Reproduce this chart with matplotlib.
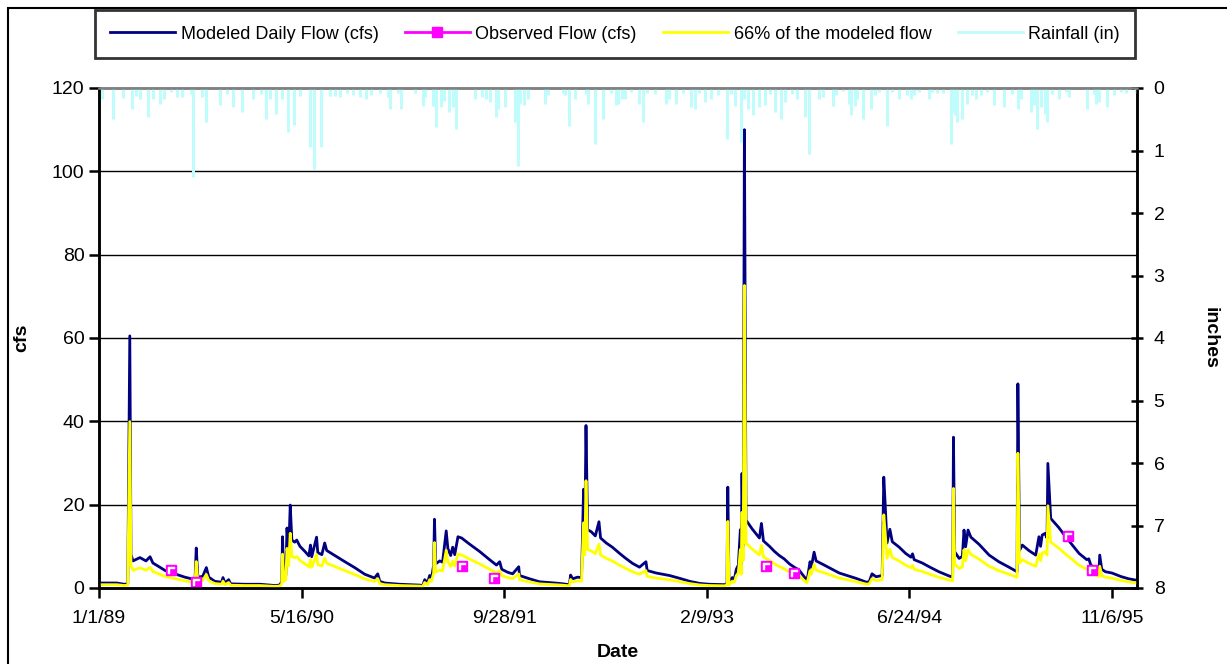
"""
modeled vs observed daily flow with rainfall hanging from the top
"""
import matplotlib
matplotlib.use("Agg")
import matplotlib.pyplot as plt
from matplotlib.lines import Line2D
from matplotlib.patches import Rectangle
import pandas as pd

plt.rcParams['font.family'] = ['Liberation Sans', 'DejaVu Sans']

# ------------------------------------------------------
# data, days counted from 1/1/89
start = pd.Timestamp("1989-01-01")

flow_days = [0, 44, 62, 71, 76, 79, 84, 101, 116, 126, 133, 150, 163, 187, 212, 237, 240, 244,
             256, 265, 271, 286, 303, 306, 311, 320, 325, 360, 397, 434, 446, 451, 453, 456,
             461, 464, 468, 472, 476, 483, 488, 496, 508, 518, 522, 525, 537, 540, 550, 557,
             562, 582, 607, 631, 656, 680, 688, 693, 705, 742, 791, 799, 804, 811, 816, 821,
             826, 828, 831, 841, 848, 857, 861, 868, 873, 878, 886, 895, 915, 939, 964, 981,
             989, 994, 1008, 1021, 1036, 1038, 1063, 1087, 1137, 1161, 1164, 1169, 1181, 1191,
             1196, 1199, 1202, 1206, 1215, 1225, 1234, 1238, 1252, 1267, 1285, 1299, 1317, 1334,
             1350, 1353, 1375, 1408, 1434, 1458, 1483, 1506, 1545, 1550, 1552, 1555, 1563, 1568,
             1573, 1578, 1583, 1585, 1587, 1590, 1593, 1597, 1605, 1612, 1622, 1630, 1635, 1640,
             1655, 1667, 1679, 1691, 1704, 1716, 1728, 1743, 1748, 1755, 1758, 1765, 1770, 1790,
             1827, 1869, 1894, 1901, 1908, 1918, 1933, 1937, 1940, 1945, 1952, 1958, 1975, 1991,
             2004, 2008, 2012, 2032, 2049, 2073, 2098, 2107, 2109, 2112, 2123, 2131, 2135, 2139,
             2145, 2152, 2172, 2197, 2221, 2246, 2266, 2268, 2272, 2279, 2295, 2312, 2320, 2324,
             2328, 2335, 2340, 2342, 2349, 2369, 2386, 2401, 2419, 2438, 2443, 2448, 2460, 2468,
             2470, 2475, 2484, 2500, 2524, 2542, 2559]
flow_cfs = [1.2, 1.2, 0.9, 1.0, 60.5, 8.0, 6.5, 7.3, 6.5, 7.5, 6.0, 5.0, 4.2, 3.4, 2.6, 2.0, 9.6, 2.6,
            2.8, 4.9, 2.6, 1.6, 1.4, 2.5, 1.2, 2.0, 1.0, 0.9, 0.9, 0.6, 0.7, 1.5, 12.3, 2.5,
            3.0, 14.4, 8.0, 19.9, 11.5, 11.0, 11.5, 10.0, 8.8, 7.7, 10.3, 7.5, 12.2, 8.5, 8.0, 10.8,
            9.0, 7.8, 6.3, 4.9, 3.3, 2.4, 3.4, 1.6, 1.2, 0.9, 0.7, 0.6, 2.0, 1.2, 3.0, 2.5,
            5.5, 16.5, 5.8, 6.5, 6.2, 13.7, 9.5, 7.8, 9.8, 8.0, 12.3, 12.0, 10.5, 8.8, 6.8, 5.5,
            6.3, 4.5, 3.8, 3.4, 5.1, 3.0, 2.2, 1.5, 1.1, 0.8, 3.1, 2.2, 2.6, 2.5,
            23.7, 12.0, 39.0, 14.0, 13.5, 12.5, 15.9, 12.0, 10.8, 9.8, 8.3, 7.2, 5.9, 5.0,
            6.3, 4.2, 3.6, 3.0, 2.3, 1.6, 1.1, 0.9, 0.8, 1.2, 24.2, 1.0, 2.5, 2.0,
            4.5, 5.5, 14.0, 5.0, 27.5, 10.0, 110.0, 16.3, 15.2, 14.2, 13.0, 12.0, 15.5, 11.3,
            10.0, 8.8, 7.8, 7.0, 5.8, 5.0, 4.3, 2.4, 2.0, 6.3, 5.0, 8.6, 6.5, 5.5,
            3.6, 2.3, 1.4, 1.5, 3.4, 2.7, 3.0, 26.6, 21.0, 10.8, 14.1, 11.1, 9.8, 8.3,
            7.4, 8.2, 6.8, 6.0, 5.1, 3.9, 2.9, 2.6, 36.2, 8.7, 7.1, 7.6, 13.9, 9.9,
            13.9, 12.2, 10.5, 7.9, 6.3, 5.0, 3.9, 49.0, 9.0, 10.3, 9.0, 7.9, 12.3, 10.0,
            12.7, 13.1, 12.0, 29.9, 16.7, 14.5, 12.3, 10.5, 8.3, 6.8, 7.0, 5.5, 4.7, 4.2,
            7.9, 4.5, 3.9, 3.6, 2.7, 2.2, 1.9]

obs_days = [178, 239, 895, 975, 1646, 1716, 2391, 2450]
obs_cfs = [4.3, 1.4, 5.4, 2.5, 5.4, 3.5, 12.5, 4.3]

rain_days = [7, 34, 60, 81, 91, 101, 120, 134, 150, 160, 178, 193, 204, 228, 233, 253, 263, 298,
             315, 330, 352, 381, 399, 411, 422, 436, 452, 466, 481, 496, 520, 530, 549, 570,
             582, 594, 612, 627, 644, 658, 672, 693, 713, 719, 738, 746, 779, 800, 804, 824,
             831, 845, 851, 864, 874, 882, 929, 945, 956, 964, 979, 984, 1003, 1028, 1033, 1038,
             1048, 1058, 1102, 1108, 1145, 1151, 1161, 1176, 1202, 1206, 1225, 1243, 1264, 1275,
             1280, 1291, 1299, 1313, 1332, 1342, 1352, 1373, 1400, 1408, 1423, 1441, 1461, 1472,
             1482, 1496, 1511, 1529, 1549, 1560, 1570, 1585, 1593, 1603, 1613, 1630, 1645, 1657,
             1669, 1683, 1694, 1710, 1724, 1743, 1753, 1778, 1786, 1812, 1819, 1837, 1852, 1856,
             1866, 1872, 1886, 1905, 1916, 1925, 1944, 1958, 1975, 1995, 2004, 2012, 2024, 2049,
             2057, 2069, 2082, 2102, 2106, 2113, 2117, 2131, 2143, 2154, 2165, 2176, 2191, 2209,
             2234, 2254, 2269, 2275, 2300, 2308, 2316, 2324, 2335, 2340, 2353, 2369, 2386, 2394,
             2438, 2456, 2461, 2468, 2488, 2505, 2522, 2536, 2559]
rain_in = [0.18, 0.5, 0.16, 0.34, 0.12, 0.18, 0.47, 0.18, 0.25, 0.18, 0.06, 0.15, 0.15, 0.1, 1.42, 0.15, 0.54, 0.27,
           0.1, 0.31, 0.38, 0.18, 0.1, 0.5, 0.18, 0.41, 0.18, 0.7, 0.59, 0.12, 0.95, 1.3, 0.95, 0.12,
           0.12, 0.15, 0.08, 0.11, 0.15, 0.18, 0.11, 0.08, 0.15, 0.33, 0.08, 0.34, 0.08, 0.29, 0.15, 0.29,
           0.63, 0.31, 0.2, 0.38, 0.31, 0.66, 0.18, 0.15, 0.18, 0.22, 0.47, 0.33, 0.31, 0.54, 1.25, 0.25,
           0.27, 0.18, 0.26, 0.11, 0.08, 0.11, 0.6, 0.18, 0.09, 0.25, 0.89, 0.5, 0.08, 0.27,
           0.25, 0.18, 0.18, 0.06, 0.25, 0.54, 0.08, 0.1, 0.25, 0.18, 0.25, 0.08, 0.31, 0.34,
           0.08, 0.22, 0.18, 0.11, 0.82, 0.09, 0.29, 0.86, 0.18, 0.34, 0.43, 0.31, 0.27, 0.09,
           0.38, 0.5, 0.22, 0.09, 0.18, 0.47, 1.05, 0.18, 0.15, 0.29, 0.11, 0.05, 0.26, 0.43,
           0.29, 0.18, 0.5, 0.34, 0.11, 0.06, 0.6, 0.06, 0.18, 0.11, 0.18, 0.11, 0.06, 0.18,
           0.06, 0.08, 0.08, 0.89, 0.38, 0.43, 0.54, 0.5, 0.26, 0.11, 0.18, 0.11, 0.06, 0.27,
           0.31, 0.09, 0.34, 0.18, 0.38, 0.27, 0.66, 0.31, 0.41, 0.54, 0.09, 0.18, 0.06, 0.15,
           0.34, 0.09, 0.25, 0.22, 0.31, 0.11, 0.06, 0.08, 0.08]

x_tick_days = [0, 500, 1000, 1500, 2000, 2500]
x_end_day = 2562

flow_dates = start + pd.to_timedelta(flow_days, unit="D")
obs_dates = start + pd.to_timedelta(obs_days, unit="D")
rain_dates = start + pd.to_timedelta(rain_days, unit="D")
tick_dates = start + pd.to_timedelta(x_tick_days, unit="D")
flow66 = [0.66 * v for v in flow_cfs]

# ------------------------------------------------------
fig = plt.figure(figsize=(12.27, 6.64), dpi=100)
ax = fig.add_axes([99 / 1227, 1 - 588 / 664, 1038 / 1227, 500 / 664])
ax2 = ax.twinx()

# chart area border (only left and top show in the crop)
fig.patches.append(Rectangle((8 / 1227, -0.1), 1.5, 1.1 - 8 / 664, transform=fig.transFigure,
                             fill=False, ec="black", lw=1.5))

for g in [20, 40, 60, 80, 100]:
    ax.axhline(g, color="black", lw=1, zorder=1)

ax.plot(flow_dates, flow_cfs, color="#000080", lw=2, zorder=3)
ax.plot(flow_dates, flow66, color="#ffff00", lw=2, zorder=4)
ax.plot(obs_dates, obs_cfs, ls="none", marker="s", ms=7, mfc="#ff00ff", mec="#ff00ff", zorder=5)
ax.plot(obs_dates, obs_cfs, ls="none", marker=r"$\ulcorner$", ms=5, mfc="white", mec="white",
        zorder=6)

ax2.vlines(rain_dates, 0, rain_in, color="#c0fcfc", lw=2.2)

ax.set_xlim(start, start + pd.Timedelta(days=x_end_day))
ax.set_ylim(0, 120)
ax.set_yticks(range(0, 121, 20))
ax2.set_ylim(8, 0)
ax2.set_yticks(range(0, 9))

ax.set_xticks(tick_dates)
ax.set_xticklabels([f"{d.month}/{d.day}/{d:%y}" for d in tick_dates])

for a in (ax, ax2):
    for s in a.spines.values():
        s.set_linewidth(1.8)
    a.spines["top"].set_color("#808080")
ax.tick_params(axis="both", labelsize=14, width=1.8, length=7, direction="out")
ax.tick_params(axis="x", pad=9)
ax2.tick_params(axis="y", labelsize=14, width=1.8, length=8, direction="inout", pad=8)

ax.set_xlabel("Date", fontsize=14, fontweight="bold", labelpad=12)
ax.set_ylabel("cfs", fontsize=14, fontweight="bold")
ax.yaxis.set_label_coords((30 - 99) / 1038, 0.5)
ax2.set_ylabel("inches", fontsize=14, fontweight="bold", rotation=270, va="center")
ax2.yaxis.set_label_coords((1210 - 99) / 1038, 0.5)

handles = [
    Line2D([], [], color="#000080", lw=2),
    Line2D([], [], color="#ff00ff", lw=2, marker="s", ms=7, mfc="#ff00ff"),
    Line2D([], [], color="#ffff00", lw=2),
    Line2D([], [], color="#c0fcfc", lw=2),
]
labels = ["Modeled Daily Flow (cfs)", "Observed Flow (cfs)", "66% of the modeled flow", "Rainfall (in)"]
leg = fig.legend(handles, labels, ncol=4, loc="lower left", mode="expand",
                 bbox_to_anchor=(95 / 1227, 1 - 58 / 664, 1040 / 1227, 49 / 664),
                 borderaxespad=0, borderpad=0.85, fontsize=13, frameon=True, fancybox=False,
                 handlelength=3.6, handletextpad=0.3, columnspacing=1.0)
leg.get_frame().set_edgecolor("black")
leg.get_frame().set_linewidth(2)

fig.savefig("out.png", dpi=100)
